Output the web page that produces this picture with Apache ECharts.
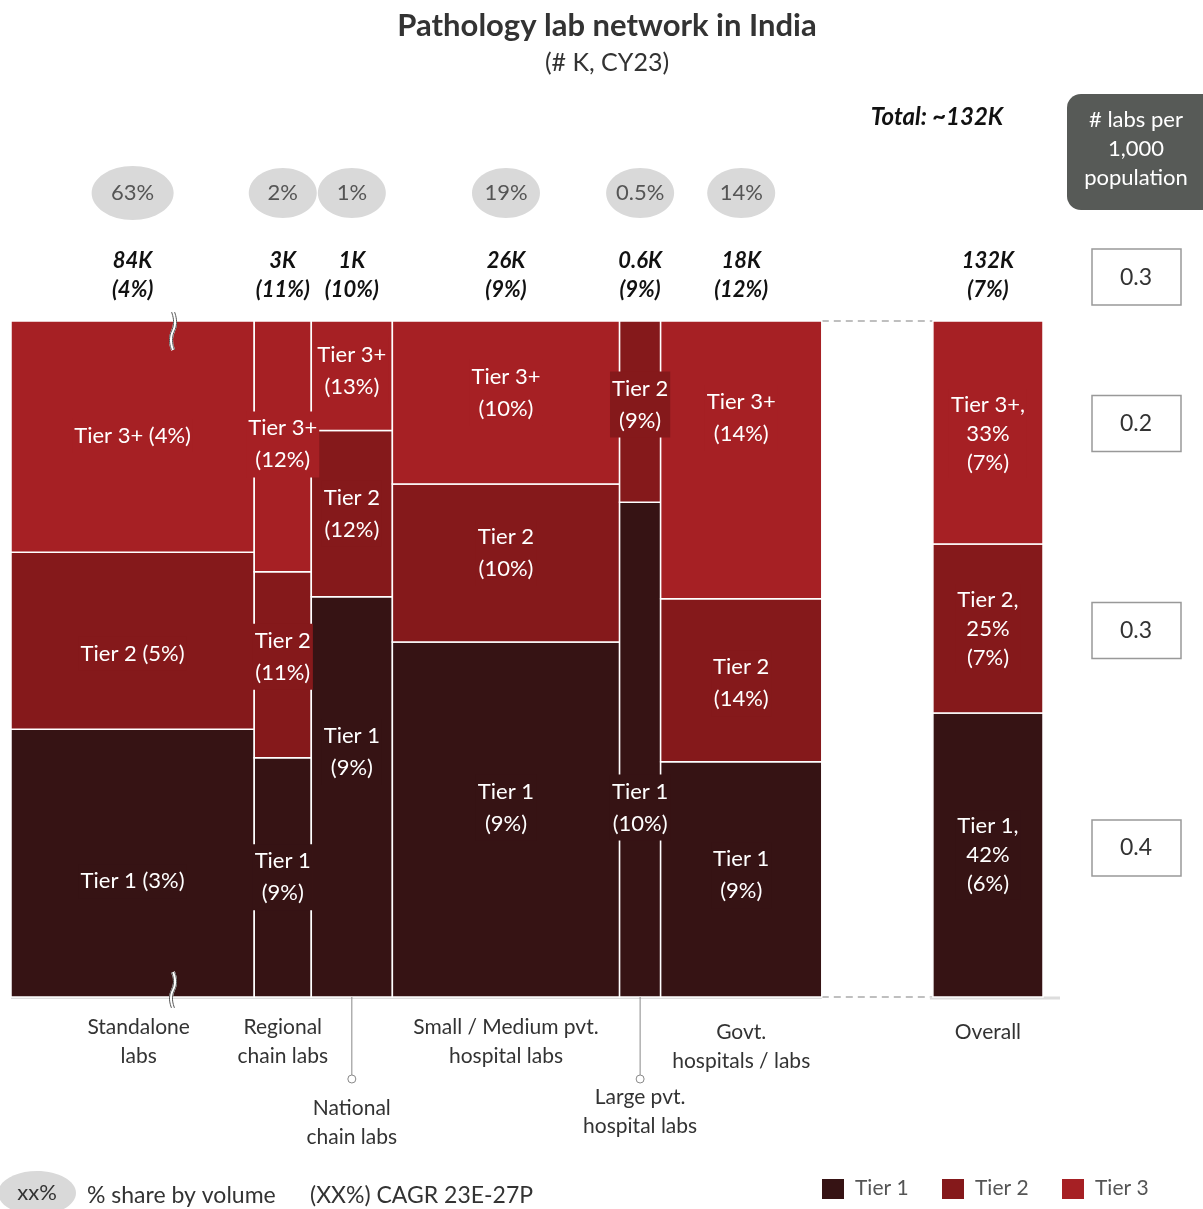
<!DOCTYPE html>
<html>
<head>
<meta charset="utf-8">
<title>Pathology lab network in India</title>
<script src="https://cdn.jsdelivr.net/npm/echarts@6/dist/echarts.min.js"></script>
<style>
  html, body { margin: 0; padding: 0; background: #fff; }
  #chart { width: 1203px; height: 1209px; }
</style>
</head>
<body>
<div id="chart"></div>
<script>
// segments (x axis of the marimekko)
var categories = ['Standalone\nlabs', 'Regional\nchain labs', 'National\nchain labs',
  'Small / Medium pvt.\nhospital labs', 'Large pvt.\nhospital labs', 'Govt.\nhospitals / labs'];
var volumeShare = ['63%', '2%', '1%', '19%', '0.5%', '14%'];
var labsK = ['84K', '3K', '1K', '26K', '0.6K', '18K'];
var labsCagr = ['4%', '11%', '10%', '9%', '9%', '12%'];
// column widths as drawn (Standalone axis is broken)
var colWidth = [243, 57, 81, 227, 41, 161];

// tier split inside each segment, % of labs (bottom to top)
var tier1Share = [39.6, 35.4, 59.2, 52.5, 73.2, 34.8];
var tier2Share = [26.2, 27.5, 24.6, 23.4, 26.8, 24.1];
var tier3Share = [34.2, 37.1, 16.2, 24.1, 0, 41.1];
var tier1Cagr = ['3%', '9%', '9%', '9%', '10%', '9%'];
var tier2Cagr = ['5%', '11%', '12%', '10%', '9%', '14%'];
var tier3Cagr = ['4%', '12%', '13%', '10%', '', '14%'];

// overall column
var overallK = '132K';
var overallCagr = '7%';
var overallShare = [42, 25, 33];
var overallTierCagr = ['6%', '7%', '7%'];
var labsPer1000Total = '0.3';
var labsPer1000Tier = ['0.4', '0.3', '0.2'];

var tierNames = ['Tier 1', 'Tier 2', 'Tier 3+'];
var legendNames = ['Tier 1', 'Tier 2', 'Tier 3'];
var tierColors = ['#361314', '#85191b', '#a62024'];
var FONT = 'Lato';
var gapWidth = 111;

// label nudges (px) so labels sit where the source placed them: [col][tier]
var labelShift = [[18, 13, -1], [0, -8, -2], [-45, 0, -5], [-12, -10, -10], [58, -7, 0], [-4, 3, -42], [0, 0, 1]];

// build the cells
var cells = [];
var colStart = [];
var x = 0;
for (var i = 0; i < colWidth.length; i++) {
  colStart.push(x);
  var shares = [tier1Share[i], tier2Share[i], tier3Share[i]];
  var cagrs = [tier1Cagr[i], tier2Cagr[i], tier3Cagr[i]];
  var y = 0;
  for (var t = 0; t < 3; t++) {
    if (!shares[t]) continue;
    var sep = i === 0 ? ' ' : '\n';
    cells.push({ value: [x, x + colWidth[i], y, y + shares[t], t], col: i,
      label: tierNames[t] + sep + '(' + cagrs[t] + ')' });
    y += shares[t];
  }
  x += colWidth[i];
}
var segEnd = x;
var overallX0 = segEnd + gapWidth;
var overallX1 = overallX0 + 110;
var oy = 0;
for (var t = 0; t < 3; t++) {
  cells.push({ value: [overallX0, overallX1, oy, oy + overallShare[t], t], col: 6,
    label: tierNames[t] + ',\n' + overallShare[t] + '%\n(' + overallTierCagr[t] + ')', overall: true });
  oy += overallShare[t];
}

function renderCell(params, api) {
  var c = cells[params.dataIndex];
  var tl = api.coord([api.value(0), api.value(3)]);
  var br = api.coord([api.value(1), api.value(2)]);
  var t = api.value(4);
  var w = br[0] - tl[0], h = br[1] - tl[1];
  var children = [
    { type: 'rect', shape: { x: tl[0], y: tl[1], width: w, height: h },
      style: { fill: tierColors[t], stroke: '#fff', lineWidth: 1.5 } },
    { type: 'text', z2: 10, x: tl[0] + w / 2, y: tl[1] + h / 2 + labelShift[c.col][t],
      style: { text: c.label, align: 'center', verticalAlign: 'middle', fill: '#fff',
        fontSize: 22, fontFamily: FONT, lineHeight: c.overall ? 29 : 32,
        backgroundColor: tierColors[t], padding: [1, 2] } }
  ];
  if (c.overall) {
    // labs per 1,000 population box for this tier
    var cy = tl[1] + h / 2 + [-7, 2, -9][t];
    children.push({ type: 'rect', shape: { x: 1092, y: cy - 28, width: 89, height: 56 },
      style: { fill: '#fff', stroke: '#999', lineWidth: 1.5 } });
    children.push({ type: 'text', x: 1136, y: cy,
      style: { text: labsPer1000Tier[t], align: 'center', verticalAlign: 'middle', fill: '#333', fontSize: 23, fontFamily: FONT } });
  }
  return { type: 'group', children: children };
}

var bottomLabelY = [1027, 1027, 1108, 1027, 1097, 1032];

function renderAnnot(params, api) {
  var i = params.dataIndex;
  var x0 = api.coord([colStart[i], 100]);
  var x1 = api.coord([colStart[i] + colWidth[i], 0]);
  var cx = (x0[0] + x1[0]) / 2;
  var baseY = x1[1];
  var rx = i === 0 ? 41 : 34, ry = i === 0 ? 27 : 25;
  var ch = [
    { type: 'ellipse', shape: { cx: cx, cy: 193, rx: rx, ry: ry }, style: { fill: '#d9d9d9' } },
    { type: 'text', x: cx, y: 193, style: { text: volumeShare[i], align: 'center', verticalAlign: 'middle',
      fill: '#555', fontSize: 22, fontFamily: FONT } },
    { type: 'text', x: cx, y: 275, style: { text: labsK[i] + '\n(' + labsCagr[i] + ')', align: 'center', verticalAlign: 'middle',
      fill: '#111', fontSize: 22, fontFamily: FONT, fontWeight: 'bold', fontStyle: 'italic', lineHeight: 29 } },
    { type: 'text', x: cx + (i === 0 ? 6 : 0), y: bottomLabelY[i] - 14, style: { text: categories[i], align: 'center', verticalAlign: 'top',
      fill: '#333', fontSize: 21, fontFamily: FONT, lineHeight: 29 } }
  ];
  if (bottomLabelY[i] > 1060) {
    ch.push({ type: 'line', shape: { x1: cx, y1: baseY, x2: cx, y2: 1075 }, style: { stroke: '#888', lineWidth: 1 } });
    ch.push({ type: 'circle', shape: { cx: cx, cy: 1079, r: 4 }, style: { fill: '#fff', stroke: '#888', lineWidth: 1 } });
  }
  if (i === 0) {
    // axis break marks
    var bx = x0[0] + (x1[0] - x0[0]) * 0.66;
    [[x0[1] - 9, x0[1] + 29], [baseY - 25, baseY + 11]].forEach(function (r) {
      var pts = function (dx) {
        return [[bx + dx, r[0]], [bx + dx + 2, r[0] + (r[1] - r[0]) * 0.3], [bx + dx - 2, r[0] + (r[1] - r[0]) * 0.7], [bx + dx, r[1]]];
      };
      ch.push({ type: 'polyline', z2: 20, shape: { points: pts(1.5), smooth: 0.5 }, style: { stroke: '#fff', lineWidth: 4, fill: null } });
      ch.push({ type: 'polyline', z2: 21, shape: { points: pts(0), smooth: 0.5 }, style: { stroke: '#555', lineWidth: 1, fill: null } });
      ch.push({ type: 'polyline', z2: 21, shape: { points: pts(3), smooth: 0.5 }, style: { stroke: '#555', lineWidth: 1, fill: null } });
    });
  }
  return { type: 'group', children: ch };
}

function renderOverall(params, api) {
  var a = api.coord([segEnd, 100]);
  var b = api.coord([overallX0, 0]);
  var c = api.coord([overallX1, 0]);
  var cx = (b[0] + c[0]) / 2;
  return { type: 'group', children: [
    { type: 'line', shape: { x1: a[0], y1: a[1], x2: b[0], y2: a[1] }, style: { stroke: '#aaa', lineWidth: 1.5, lineDash: [7, 5] } },
    { type: 'line', shape: { x1: a[0], y1: b[1], x2: b[0], y2: b[1] }, style: { stroke: '#aaa', lineWidth: 1.5, lineDash: [7, 5] } },
    { type: 'line', shape: { x1: 11, y1: b[1] + 1, x2: a[0], y2: b[1] + 1 }, style: { stroke: '#ddd', lineWidth: 2 } },
    { type: 'line', shape: { x1: b[0] - 3, y1: b[1] + 1, x2: 1060, y2: b[1] + 1 }, style: { stroke: '#ddd', lineWidth: 3 } },
    { type: 'text', x: cx, y: 275, style: { text: overallK + '\n(' + overallCagr + ')', align: 'center', verticalAlign: 'middle',
      fill: '#111', fontSize: 22, fontFamily: FONT, fontWeight: 'bold', fontStyle: 'italic', lineHeight: 29 } },
    { type: 'text', x: cx, y: 1032, style: { text: 'Overall', align: 'center', verticalAlign: 'middle', fill: '#333', fontSize: 21, fontFamily: FONT } },
    { type: 'rect', shape: { x: 1092, y: 249, width: 89, height: 56 }, style: { fill: '#fff', stroke: '#999', lineWidth: 1.5 } },
    { type: 'text', x: 1136, y: 278, style: { text: labsPer1000Total, align: 'center', verticalAlign: 'middle', fill: '#333', fontSize: 23, fontFamily: FONT } }
  ] };
}

var legendGraphics = [];
legendNames.forEach(function (n, k) {
  legendGraphics.push({ type: 'rect', left: 822 + k * 120, top: 1179, shape: { width: 22, height: 20 }, style: { fill: tierColors[k] } });
  legendGraphics.push({ type: 'text', left: 855 + k * 120, top: 1178, style: { text: n, fill: '#555', fontSize: 21, fontFamily: FONT } });
});

var option = {
  animation: false,
  grid: { left: 11, right: 160, top: 321, bottom: 212 },
  xAxis: { type: 'value', min: 0, max: overallX1, show: false },
  yAxis: { type: 'value', min: 0, max: 100, show: false },
  graphic: [
    { type: 'text', x: 607, y: 26, style: { text: 'Pathology lab network in India', fill: '#333', align: 'center', verticalAlign: 'middle',
      fontSize: 31, fontWeight: 'bold', fontFamily: FONT } },
    { type: 'text', x: 607, y: 63, style: { text: '(# K, CY23)', fill: '#333', align: 'center', verticalAlign: 'middle', fontSize: 25, fontFamily: FONT } },
    { type: 'text', x: 937, y: 117, style: { text: 'Total: ~132K', fill: '#111', align: 'center', verticalAlign: 'middle', fontSize: 24,
      fontWeight: 'bold', fontStyle: 'italic', fontFamily: FONT } },
    { type: 'rect', left: 1067, top: 94, shape: { width: 160, height: 116, r: 14 }, style: { fill: '#575a57' } },
    { type: 'text', x: 1136, y: 149, style: { text: '# labs per\n1,000\npopulation', fill: '#fff', fontSize: 22,
      fontFamily: FONT, lineHeight: 29, align: 'center', verticalAlign: 'middle' } },
    { type: 'ellipse', left: -2, top: 1171, shape: { cx: 38, cy: 21, rx: 39, ry: 22 }, style: { fill: '#d9d9d9' } },
    { type: 'text', x: 37, y: 1193, style: { text: 'xx%', fill: '#333', fontSize: 22, fontFamily: FONT, align: 'center', verticalAlign: 'middle' } },
    { type: 'text', x: 87, y: 1196, style: { text: '% share by volume', fill: '#333', fontSize: 23, fontFamily: FONT, verticalAlign: 'middle' } },
    { type: 'text', x: 310, y: 1196, style: { text: '(XX%) CAGR 23E-27P', fill: '#333', fontSize: 23, fontFamily: FONT, verticalAlign: 'middle' } }
  ].concat(legendGraphics),
  series: [
    { type: 'custom', name: 'cells', renderItem: renderCell, data: cells.map(function (c) { return c.value; }), z: 2 },
    { type: 'custom', name: 'annotations', renderItem: renderAnnot, data: colWidth.map(function (w, i) { return [colStart[i], w]; }), z: 3 },
    { type: 'custom', name: 'overall', renderItem: renderOverall, data: [[overallX0, overallX1]], z: 1 }
  ]
};

echarts.init(document.getElementById('chart')).setOption(option);
</script>
</body>
</html>
